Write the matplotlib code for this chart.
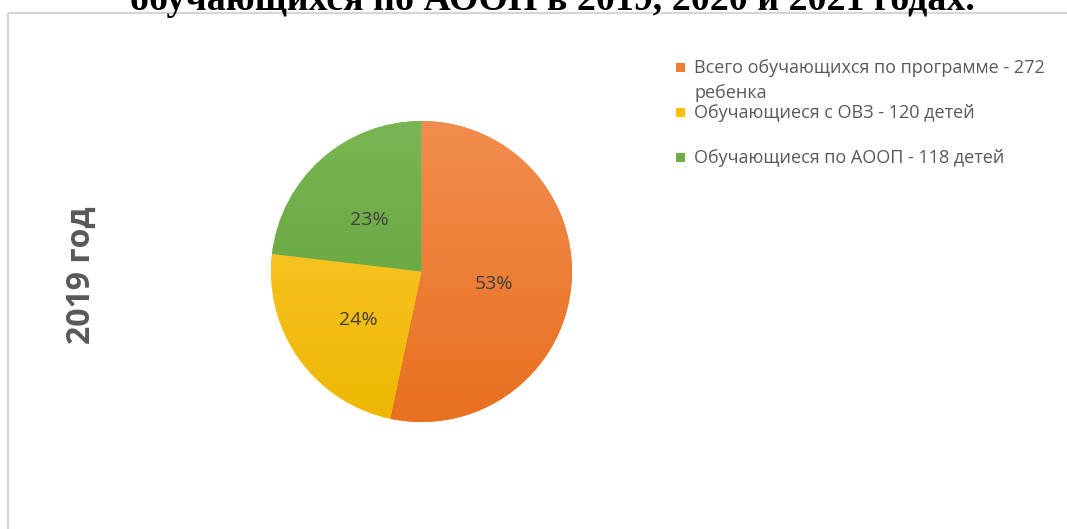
import numpy as np
import matplotlib
matplotlib.use("Agg")
import matplotlib.pyplot as plt
from matplotlib.patches import Rectangle
from matplotlib.colors import LinearSegmentedColormap

# ---- data ----
categories = ["Всего обучающихся по программе - 272\nребенка",
              "Обучающиеся с ОВЗ - 120 детей",
              "Обучающиеся по АООП - 118 детей"]
values = [272, 120, 118]
year_label = "2019 год"
title_text = "обучающихся по АООП в 2019, 2020 и 2021 годах."

colors_light = ["#F28D4E", "#FFC83A", "#7AB653"]
colors_dark = ["#E8701F", "#EDB800", "#5E9E38"]
legend_colors = ["#ED7D31", "#FFC000", "#70AD47"]

W, H = 1067, 529
fig = plt.figure(figsize=(W / 100, H / 100), dpi=100)
fig.patch.set_facecolor("white")

def fx(px):
    return px / W

def fy(py):
    return 1 - py / H

# frame of chart area (extends beyond the image)
frame = fig.add_axes([0, 0, 1, 1], zorder=0)
frame.set_xlim(0, W)
frame.set_ylim(H, 0)
frame.axis("off")
frame.add_patch(Rectangle((8, 13), 1200, 700, fill=False, edgecolor="#d6d6d6", lw=1.6))

# title (cut off at the top)
fig.text(fx(552), fy(10), title_text, ha="center", va="baseline",
         fontsize=27.3, fontweight="bold", family="Liberation Serif", color="black")

# pie
cx, cy, r = 421.5, 271.5, 153.5
ax = fig.add_axes([fx(cx - r), fy(cy + r), fx(2 * r), (2 * r) / H])
wedges, texts, autotexts = ax.pie(values, startangle=90, counterclock=False,
                                  colors=legend_colors, autopct="%1.0f%%",
                                  pctdistance=0.5, radius=1,
                                  wedgeprops=dict(linewidth=0),
                                  textprops=dict(fontsize=14, color="#404040",
                                                 family="Open Sans"))
ax.set_xlim(-1.02, 1.02)
ax.set_ylim(-1.02, 1.02)
ax.set_aspect("equal")
ax.axis("off")

# vertical gradient in each wedge
grad = np.linspace(0, 1, 256).reshape(-1, 1)
for w, cl, cd in zip(wedges, colors_light, colors_dark):
    cmap = LinearSegmentedColormap.from_list("g", [cd, cl])
    im = ax.imshow(grad, extent=[-1, 1, -1, 1], origin="lower", cmap=cmap,
                   aspect="auto", zorder=w.get_zorder() + 0.1)
    im.set_clip_path(w)
for t in autotexts:
    t.set_zorder(5)
    x0, y0 = t.get_position()
    t.set_position((x0 - 2 / r, y0 - 5 / r))

# year label
fig.text(fx(81), fy(275), year_label, rotation=90, ha="center", va="center",
         fontsize=23, fontweight="bold", family="Open Sans", color="#595959")

# legend (manual, Excel-like layout)
leg_base = [73, 118, 163]
for lab, col, yb in zip(categories, legend_colors, leg_base):
    frame.add_patch(Rectangle((676, yb - 10), 9, 9, facecolor=col, edgecolor="none"))
    lines = lab.split("\n")
    for k, line in enumerate(lines):
        frame.text(694, yb + 25 * k, line, ha="left", va="baseline",
                   fontsize=13, family="Open Sans", color="#595959")

fig.savefig("out.png", dpi=100, facecolor="white")
